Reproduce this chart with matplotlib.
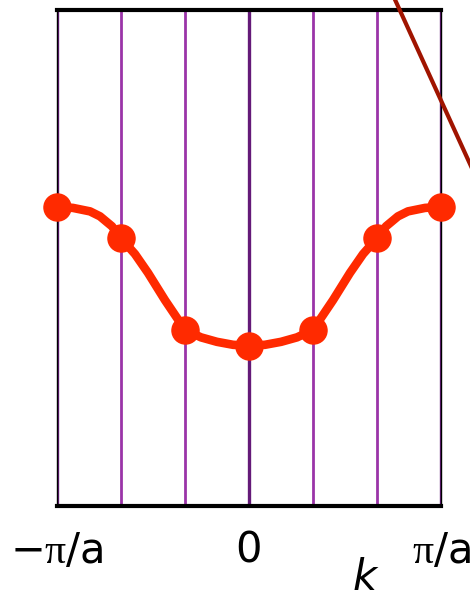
import numpy as np
import matplotlib
matplotlib.use("Agg")
import matplotlib.pyplot as plt

# allowed k points (units of pi/a) and their band energies (arbitrary units)
k_points = [-1.0, -2/3, -1/3, 0.0, 1/3, 2/3, 1.0]
e_points = [0.603, 0.540, 0.355, 0.323, 0.355, 0.540, 0.603]

# smooth band curve
k_curve = [-1.0, -0.917, -0.828, -0.776, -0.714, -0.667, -0.594, -0.526,
           -0.4375, -0.333, -0.25, -0.167, -0.083, 0.0,
           0.083, 0.167, 0.25, 0.333, 0.4375, 0.526, 0.594, 0.667,
           0.714, 0.776, 0.828, 0.917, 1.0]
e_curve = [0.603, 0.601, 0.594, 0.584, 0.564, 0.540, 0.508, 0.470,
           0.415, 0.355, 0.340, 0.331, 0.325, 0.323,
           0.325, 0.331, 0.340, 0.355, 0.415, 0.470, 0.508, 0.540,
           0.564, 0.584, 0.594, 0.601, 0.603]

# neighbouring free-electron branch (the dark red line at top right)
k_branch = [0.62, 1.2]
e_branch = [1.14, 0.648]

tick_pos = [-1, 0, 1]
tick_labels = [r"$\mathsf{-}\mathrm{\pi}\mathsf{/a}$", "0",
               r"$\mathrm{\pi}\mathsf{/a}$"]

plt.rcParams["mathtext.fontset"] = "custom"
plt.rcParams["mathtext.rm"] = "Liberation Serif"
plt.rcParams["mathtext.sf"] = "DejaVu Sans"

fig = plt.figure(figsize=(4.7, 6), dpi=100)
ax = fig.add_axes([57/470, 94/600, 384/470, 496/600])

for k in k_points:
    dark = k in (-1.0, 0.0, 1.0)
    ax.axvline(k, color="#641a78" if dark else "#9a34a8",
               lw=2.4 if dark else 2.0, zorder=1)

ax.plot(k_curve, e_curve, color="#ff2a00", lw=6.2, solid_joinstyle="round",
        solid_capstyle="round", zorder=3)
ax.plot(k_points, e_points, "o", color="#ff2a00", ms=19.5, zorder=4,
        clip_on=False)
ax.plot(k_branch, e_branch, color="#a01400", lw=3, zorder=5, clip_on=False)

ax.set_xlim(-1, 1)
ax.set_ylim(0, 1)
for side in ("top", "bottom"):
    ax.spines[side].set_linewidth(3)
for side in ("left", "right"):
    ax.spines[side].set_linewidth(1)
ax.set_yticks([])
ax.set_xticks(tick_pos)
ax.set_xticklabels(tick_labels, fontsize=30, fontfamily="DejaVu Sans")
ax.tick_params(axis="x", length=0, pad=17)
labels = ax.get_xticklabels()
labels[0].set_x(-1.02)
labels[2].set_x(0.98)

fig.text(365/470, 1/600, "k", fontsize=30, style="italic",
         ha="center", va="bottom", fontfamily="DejaVu Sans")

fig.savefig("out.png", dpi=100)
